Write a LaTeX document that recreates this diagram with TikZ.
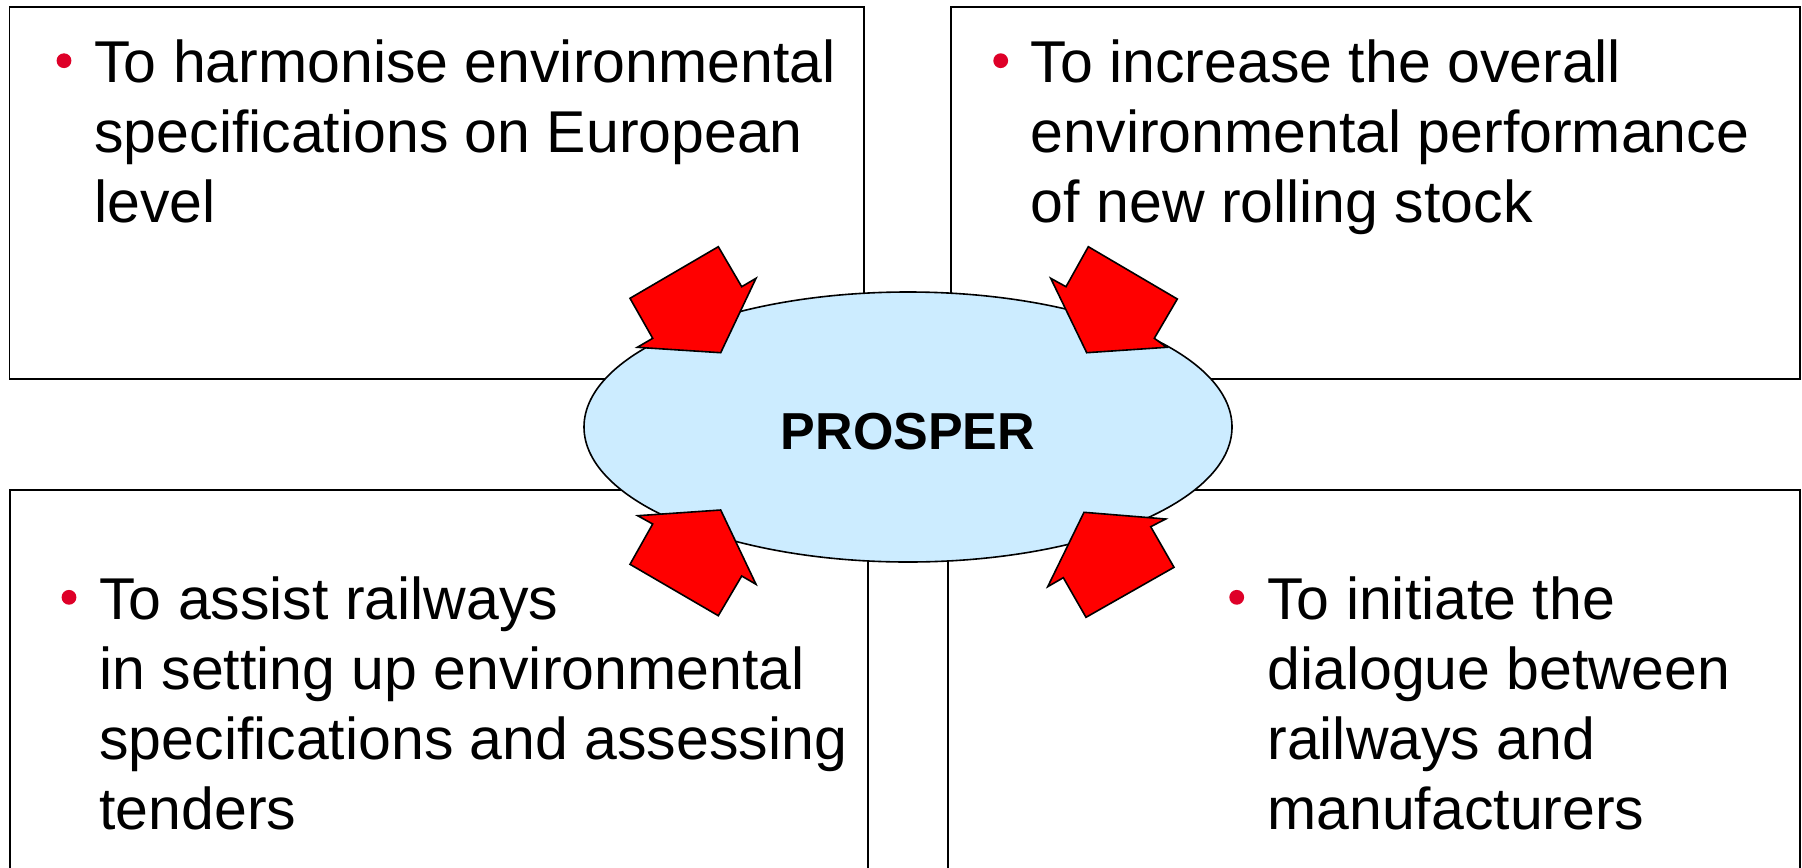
\documentclass[tikz,border=0pt]{standalone}
\usepackage{fontspec}
\setmainfont{Liberation Sans}
\usetikzlibrary{shapes.geometric}
\definecolor{hubblue}{RGB}{204,236,255}
\definecolor{bulletred}{RGB}{222,0,40}
\begin{document}
\begin{tikzpicture}[x=0.5pt,y=-0.5pt,
  panel/.style={draw=black, line width=0.8pt},
  hub/.style={ellipse, draw=black, line width=0.8pt, fill=hubblue, inner sep=0pt,
              minimum width=324pt, minimum height=135pt},
  blockarrow/.style={draw=black, line width=0.8pt, fill=red, line join=miter},
  bullet/.style={circle, fill=bulletred, inner sep=0pt, minimum size=7.4pt},
  bodytext/.style={anchor=base west, inner sep=0pt, font=\fontsize{29.5}{35}\selectfont},
  hubtext/.style={inner sep=0pt, font=\bfseries\fontsize{26}{30}\selectfont}]
\path[use as bounding box] (0,0) rectangle (1802,867);
\clip (0,0) rectangle (1802,867);
\fill[white] (0,0) rectangle (1802,867);

% panels
\draw[panel] (9.5,7) rectangle (864,379);
\draw[panel] (951,7) rectangle (1800,379);
\draw[panel] (10,490) rectangle (868,900);
\draw[panel] (948,490) rectangle (1800,900);

% bullets and texts
\node[bullet] (b1) at (64,60.7) {};
\node[bodytext] (t1) at (94,82.7) {\parbox[t]{430pt}{\raggedright
  To harmonise environmental\\specifications on European\\level}};
\node[bullet] (b2) at (1000.7,60.7) {};
\node[bodytext] (t2) at (1030.5,82.7) {\parbox[t]{430pt}{\raggedright
  To increase the overall\\environmental performance\\of new rolling stock}};
\node[bullet] (b3) at (69,597.3) {};
\node[bodytext] (t3) at (99,619.3) {\parbox[t]{430pt}{\raggedright
  To assist railways\\in setting up environmental\\specifications and assessing\\tenders}};
\node[bullet] (b4) at (1236.7,597.3) {};
\node[bodytext] (t4) at (1267,619.3) {\parbox[t]{430pt}{\raggedright
  To initiate the\\dialogue between\\railways and\\manufacturers}};

% hub
\node[hub] (hub) at (908,427) {};
\node[hubtext] (hublabel) at (908,432) {PROSPER};

% block arrows
\draw[blockarrow] (718.3,246.7) -- (630,298.3) -- (652.7,338.3) -- (637.3,347.3)
  -- (720.7,352.7) -- (756,278.3) -- (741.7,286.7) -- cycle;
\draw[blockarrow] (1088.3,246.7) -- (1177.3,299) -- (1154.3,338.3) -- (1166.7,347.3)
  -- (1086.7,352.7) -- (1050.7,278.3) -- (1066,286.7) -- cycle;
\draw[blockarrow] (720.7,510) -- (637.7,515.7) -- (652.7,524) -- (630,564.3)
  -- (718.3,615.7) -- (741.7,576) -- (756,584.3) -- cycle;
\draw[blockarrow] (1084,512.3) -- (1165.7,519) -- (1150.7,526.7) -- (1174,567.3)
  -- (1086,617.3) -- (1063.3,577.7) -- (1047.7,586.7) -- cycle;
\end{tikzpicture}
\end{document}
